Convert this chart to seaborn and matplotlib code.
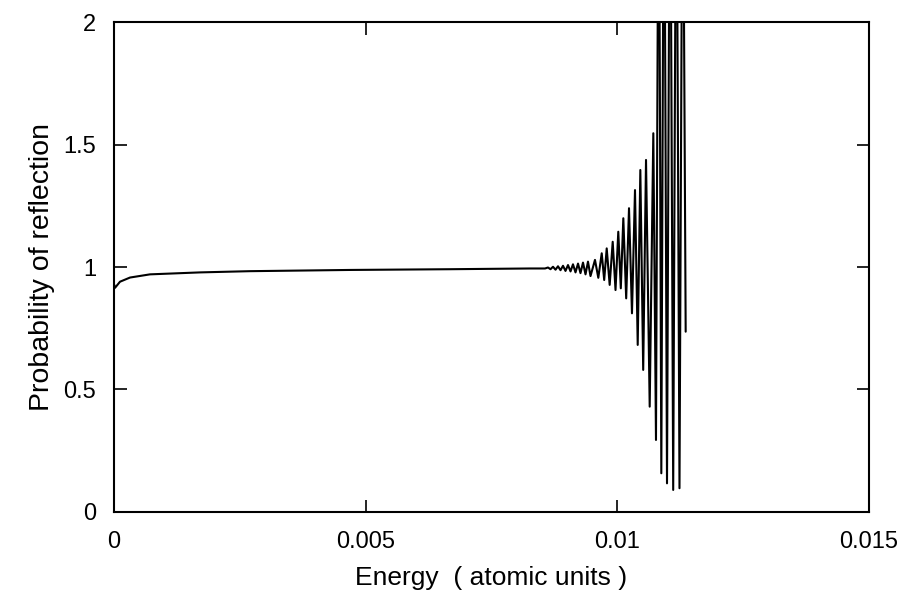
import numpy as np
import pandas as pd
import matplotlib
matplotlib.use("Agg")
import matplotlib.pyplot as plt
import seaborn as sns

# Energy (atomic units) and probability of reflection
energy = [0.0, 0.00002, 0.000119, 0.000318, 0.000715, 0.00171, 0.0027, 0.00469, 0.00668, 0.00826,
          0.008563, 0.008623, 0.008672, 0.008722, 0.008772, 0.008821, 0.008871, 0.008921,
          0.008970, 0.009020, 0.009070, 0.009119, 0.009169, 0.009219, 0.009268, 0.009318,
          0.009368, 0.009417, 0.009467, 0.009556, 0.009622, 0.009690, 0.009739, 0.009789,
          0.009848, 0.009908, 0.009964, 0.010019, 0.010069, 0.010119, 0.010176, 0.010232,
          0.010291, 0.010351, 0.010405, 0.010457, 0.010514, 0.010570, 0.010643, 0.010715,
          0.010768, 0.010822, 0.010874, 0.010927, 0.010987, 0.011047, 0.011110, 0.011172,
          0.011235, 0.011299, 0.011358]
reflection = [0.93, 0.915, 0.94, 0.957, 0.97, 0.978, 0.983, 0.988, 0.991, 0.994,
              0.994, 0.998, 0.991, 1.001, 0.989, 1.003, 0.987, 1.005,
              0.984, 1.008, 0.982, 1.011, 0.978, 1.014, 0.975, 1.018,
              0.970, 1.022, 0.963, 1.029, 0.956, 1.056, 0.947, 1.076,
              0.927, 1.103, 0.906, 1.144, 0.913, 1.199, 0.872, 1.240,
              0.811, 1.314, 0.682, 1.396, 0.580, 1.437, 0.430, 1.546,
              0.294, 3.0, 0.158, 3.0, 0.117, 3.0, 0.090, 3.0,
              0.097, 3.0, 0.736]

xticks = [0, 0.005, 0.01, 0.015]
xtick_labels = ["0", "0.005", "0.01", "0.015"]
yticks = [0, 0.5, 1, 1.5, 2]
ytick_labels = ["0", "0.5", "1", "1.5", "2"]

df = pd.DataFrame({"Energy": energy, "Reflection": reflection})

sns.set_theme(style="ticks")
plt.rcParams["font.family"] = ["Liberation Sans", "DejaVu Sans"]
plt.rcParams["text.color"] = "black"
plt.rcParams["axes.labelcolor"] = "black"

fig = plt.figure(figsize=(9.02, 5.97), dpi=100)
ax = fig.add_axes([0.1264, 0.1424, 0.8370, 0.8207])

sns.lineplot(data=df, x="Energy", y="Reflection", ax=ax, color="black",
             linewidth=1.5, estimator=None, sort=False)

ax.set_xlim(0, 0.015)
ax.set_ylim(0, 2)
ax.set_xticks(xticks)
ax.set_xticklabels(xtick_labels)
ax.set_yticks(yticks)
ax.set_yticklabels(ytick_labels)
ax.tick_params(direction="in", length=9, width=1.2, top=True, right=True,
               labelsize=17, colors="black", labelcolor="black")
ax.tick_params(axis="x", pad=14)
ax.tick_params(axis="y", pad=13)
for s in ax.spines.values():
    s.set_visible(True)
    s.set_linewidth(1.5)
    s.set_color("black")

ax.set_xlabel("Energy  ( atomic units )", fontsize=19, labelpad=9)
ax.set_ylabel("Probability of reflection", fontsize=20.5, labelpad=6)

fig.savefig("out.png", dpi=100)
